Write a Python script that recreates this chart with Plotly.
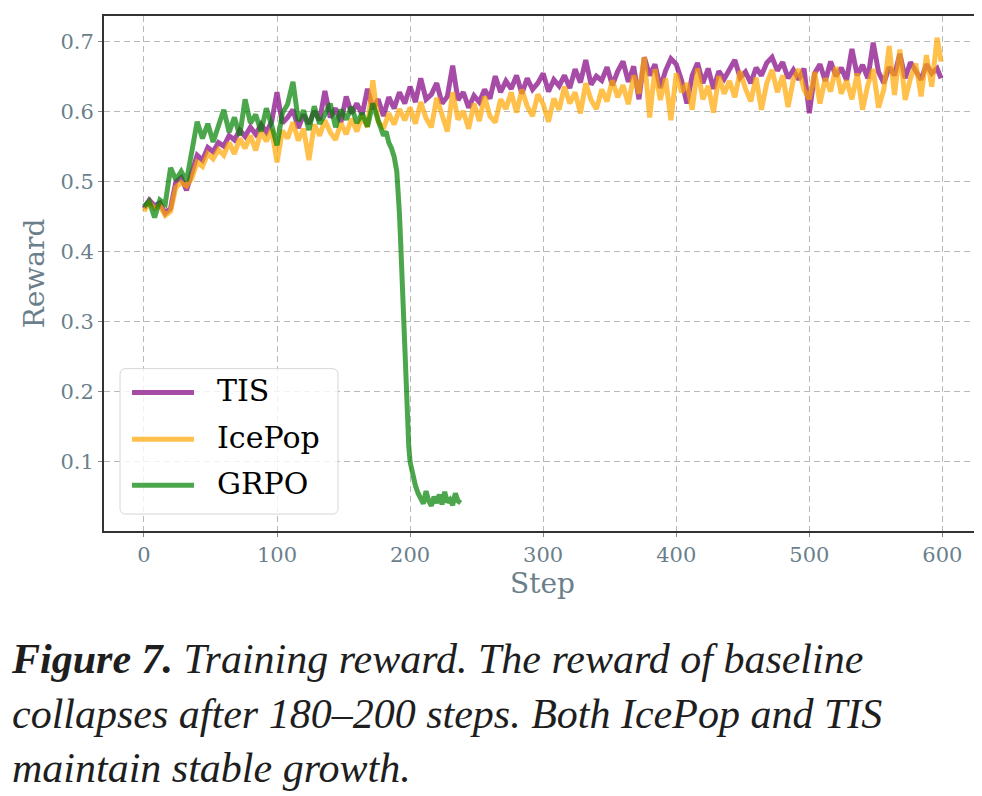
import plotly.graph_objects as go

# шаги обучения (каждые 4 шага + последний)
steps = list(range(0, 600, 4)) + [599]

tis_reward = [
    0.462, 0.474, 0.466, 0.470, 0.455, 0.462, 0.500, 0.506, 0.488, 0.512,
    0.538, 0.531, 0.549, 0.543, 0.556, 0.551, 0.566, 0.560, 0.574, 0.565,
    0.578, 0.568, 0.582, 0.571, 0.586, 0.628, 0.584, 0.592, 0.603, 0.577,
    0.596, 0.583, 0.601, 0.588, 0.630, 0.592, 0.605, 0.585, 0.622, 0.598,
    0.612, 0.596, 0.633, 0.604, 0.618, 0.594, 0.621, 0.605, 0.628, 0.612,
    0.636, 0.614, 0.648, 0.618, 0.625, 0.641, 0.612, 0.622, 0.666, 0.617,
    0.628, 0.606, 0.623, 0.614, 0.632, 0.619, 0.651, 0.628, 0.644, 0.633,
    0.652, 0.626, 0.648, 0.632, 0.641, 0.655, 0.629, 0.646, 0.637, 0.652,
    0.634, 0.661, 0.642, 0.674, 0.639, 0.651, 0.645, 0.664, 0.638, 0.658,
    0.672, 0.643, 0.665, 0.618, 0.678, 0.652, 0.668, 0.634, 0.659, 0.676,
    0.668, 0.645, 0.612, 0.652, 0.670, 0.641, 0.662, 0.633, 0.658, 0.647,
    0.662, 0.674, 0.649, 0.657, 0.641, 0.663, 0.652, 0.670, 0.678, 0.659,
    0.671, 0.648, 0.660, 0.646, 0.662, 0.598, 0.655, 0.668, 0.644, 0.672,
    0.651, 0.663, 0.645, 0.690, 0.652, 0.667, 0.648, 0.699, 0.657, 0.641,
    0.664, 0.652, 0.683, 0.648, 0.671, 0.658, 0.646, 0.668, 0.655, 0.662,
    0.648,
]

icepop_reward = [
    0.458, 0.470, 0.462, 0.466, 0.452, 0.458, 0.492, 0.499, 0.494, 0.505,
    0.528, 0.522, 0.540, 0.533, 0.546, 0.538, 0.556, 0.540, 0.562, 0.548,
    0.566, 0.545, 0.572, 0.558, 0.575, 0.528, 0.573, 0.562, 0.585, 0.559,
    0.576, 0.531, 0.582, 0.566, 0.588, 0.571, 0.560, 0.584, 0.568, 0.590,
    0.572, 0.594, 0.578, 0.645, 0.586, 0.576, 0.598, 0.582, 0.604, 0.588,
    0.606, 0.583, 0.614, 0.591, 0.578, 0.620, 0.596, 0.572, 0.628, 0.589,
    0.601, 0.576, 0.612, 0.587, 0.622, 0.594, 0.585, 0.618, 0.604, 0.628,
    0.599, 0.632, 0.608, 0.594, 0.625, 0.611, 0.586, 0.619, 0.603, 0.636,
    0.612, 0.628, 0.598, 0.641, 0.617, 0.604, 0.632, 0.615, 0.645, 0.621,
    0.638, 0.611, 0.652, 0.626, 0.678, 0.592, 0.661, 0.617, 0.648, 0.588,
    0.655, 0.628, 0.641, 0.603, 0.662, 0.618, 0.637, 0.599, 0.651, 0.626,
    0.644, 0.621, 0.658, 0.633, 0.615, 0.649, 0.603, 0.641, 0.660, 0.628,
    0.652, 0.607, 0.646, 0.661, 0.632, 0.618, 0.657, 0.612, 0.648, 0.629,
    0.664, 0.626, 0.645, 0.618, 0.655, 0.603, 0.639, 0.661, 0.606, 0.632,
    0.694, 0.624, 0.689, 0.617, 0.648, 0.669, 0.622, 0.681, 0.636, 0.706,
    0.672,
]

grpo_steps = (list(range(0, 181, 4))
              + [182, 184, 186, 188, 190, 191, 192, 193, 194, 195, 196, 197, 198, 199, 200,
                 202, 204, 206, 208, 210, 212, 214, 216, 218, 220, 222, 224, 226, 228,
                 230, 232, 234, 236, 238])
grpo_reward = [
    0.465, 0.472, 0.449, 0.474, 0.468, 0.520, 0.503, 0.515, 0.501, 0.548,
    0.586, 0.562, 0.583, 0.557, 0.579, 0.603, 0.571, 0.592, 0.566, 0.618,
    0.584, 0.596, 0.572, 0.605, 0.581, 0.552, 0.598, 0.611, 0.643, 0.587,
    0.602, 0.574, 0.608, 0.583, 0.596, 0.612, 0.578, 0.603, 0.589, 0.607,
    0.584, 0.598, 0.579, 0.612, 0.588, 0.566,
    0.572, 0.556, 0.548, 0.536, 0.515, 0.490, 0.455, 0.410, 0.360, 0.300,
    0.235, 0.185, 0.150, 0.122, 0.100,
    0.082, 0.066, 0.055, 0.046, 0.040, 0.058, 0.044, 0.037, 0.050, 0.041,
    0.053, 0.039, 0.057, 0.042, 0.046, 0.038, 0.055, 0.044, 0.041,
]

series_names = ["TIS", "IcePop", "GRPO"]
series_colors = ["rgba(128,0,128,0.7)", "rgba(255,165,0,0.7)", "rgba(0,128,0,0.7)"]

tick_color = "#6b7f8b"
serif = "DejaVu Serif"

# поле графика в пикселях
W, H = 982, 796
L, R, T, B = 96, 9, 6, 273
pw, ph = W - L - R, H - T - B


def px_x(px):
    return (px - L) / pw


def px_y(py):
    return (H - B - py) / ph


fig = go.Figure(data=[
    go.Scatter(name=series_names[0], x=steps, y=tis_reward, mode="lines",
               line=dict(color=series_colors[0], width=5)),
    go.Scatter(name=series_names[1], x=steps, y=icepop_reward, mode="lines",
               line=dict(color=series_colors[1], width=5)),
    go.Scatter(name=series_names[2], x=grpo_steps, y=grpo_reward, mode="lines",
               line=dict(color=series_colors[2], width=5)),
])

axis_style = dict(
    showline=True, mirror=True, linecolor="#333333", linewidth=2,
    showgrid=True, gridcolor="#b8b8b8", gridwidth=1, griddash="6px,4px",
    zeroline=False,
    ticks="outside", ticklen=4, tickcolor="#888888",
    tickfont=dict(family=serif, size=21, color=tick_color),
)

# легенда в стиле matplotlib: рамка со скруглёнными углами
bx0, bx1, by0, by1, rr = 112, 330, 360, 506, 6
box_path = (
    f"M{px_x(bx0 + rr)},{px_y(by0)} L{px_x(bx1 - rr)},{px_y(by0)} "
    f"Q{px_x(bx1)},{px_y(by0)} {px_x(bx1)},{px_y(by0 + rr)} "
    f"L{px_x(bx1)},{px_y(by1 - rr)} Q{px_x(bx1)},{px_y(by1)} {px_x(bx1 - rr)},{px_y(by1)} "
    f"L{px_x(bx0 + rr)},{px_y(by1)} Q{px_x(bx0)},{px_y(by1)} {px_x(bx0)},{px_y(by1 - rr)} "
    f"L{px_x(bx0)},{px_y(by0 + rr)} Q{px_x(bx0)},{px_y(by0)} {px_x(bx0 + rr)},{px_y(by0)} Z"
)
shapes = [dict(type="path", xref="paper", yref="paper", path=box_path,
               fillcolor="rgba(255,255,255,0.8)", line=dict(color="#d6d6d6", width=1))]
annotations = []
row_y = [384, 431, 477]
for name, color, ry in zip(series_names, series_colors, row_y):
    shapes.append(dict(type="line", xref="paper", yref="paper",
                       x0=px_x(124), x1=px_x(186), y0=px_y(ry), y1=px_y(ry),
                       line=dict(color=color, width=5)))
    annotations.append(dict(xref="paper", yref="paper", x=px_x(207), y=px_y(ry - 2),
                            xanchor="left", yanchor="middle", showarrow=False, text=name,
                            font=dict(family=serif, size=30, color="black")))

annotations.append(dict(
    xref="paper", yref="paper", x=px_x(1), y=px_y(626), xanchor="left", yanchor="top",
    align="left", showarrow=False,
    text="<b><i>Figure 7.</i></b><i> Training reward. The reward of baseline<br>"
         "collapses after 180–200 steps. Both IcePop and TIS<br>"
         "maintain stable growth.</i>",
    font=dict(family="Liberation Serif", size=42, color="#1e1e1e"),
))

fig.update_layout(
    width=W,
    height=H,
    paper_bgcolor="white",
    plot_bgcolor="white",
    margin=dict(l=L, r=R, t=T, b=B),
    showlegend=False,
    xaxis=dict(range=[-30, 629], tickvals=[0, 100, 200, 300, 400, 500, 600],
               title=dict(text="Step", font=dict(family=serif, size=28, color=tick_color), standoff=0),
               **axis_style),
    yaxis=dict(range=[0.001, 0.737], tickvals=[0.1, 0.2, 0.3, 0.4, 0.5, 0.6, 0.7],
               tickformat=".1f",
               title=dict(text="Reward", font=dict(family=serif, size=28, color=tick_color), standoff=8),
               **axis_style),
    shapes=shapes,
    annotations=annotations,
)

fig.write_html("out.html")
